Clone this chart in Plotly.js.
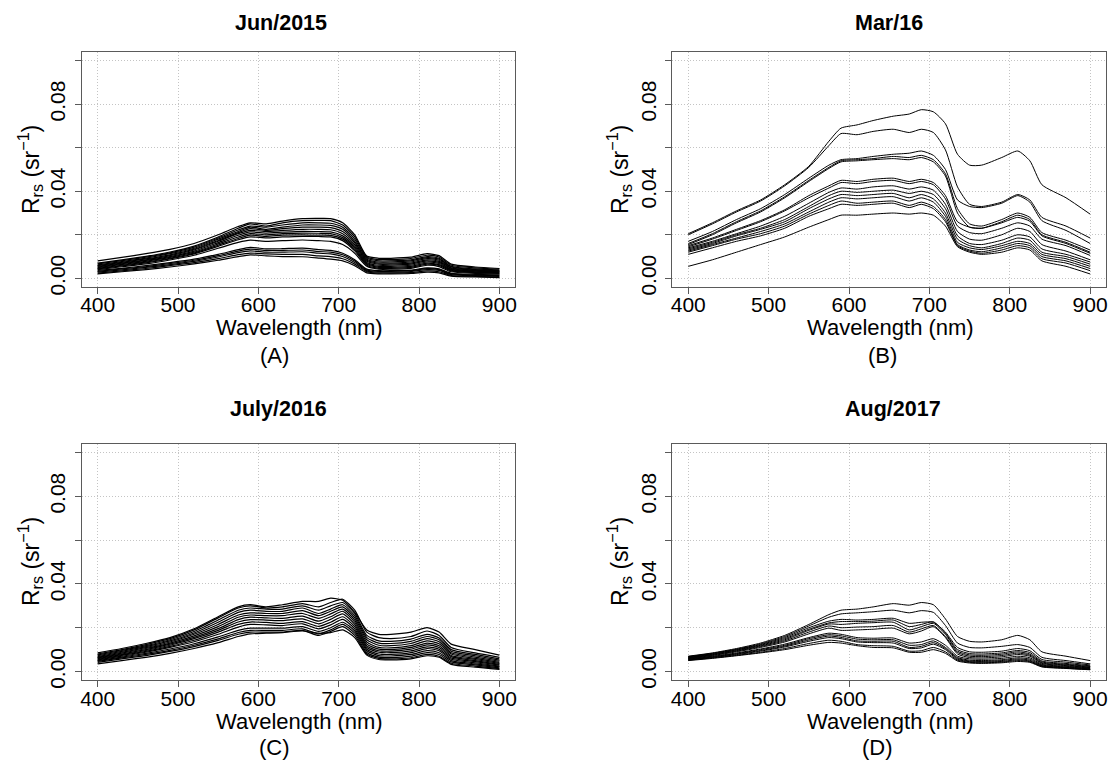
<!DOCTYPE html>
<html>
<head>
<meta charset="utf-8">
<script src="https://cdn.plot.ly/plotly-3.0.1.min.js"></script>
<style>
  html, body { margin: 0; padding: 0; background: #ffffff; }
  #chart { width: 1111px; height: 762px; }
</style>
</head>
<body>
<div id="chart"></div>
<script>
// Sampled wavelengths (nm) shared by every spectrum
const wavelength = [400, 430, 460, 490, 520, 550, 575, 590, 610, 630, 655, 675, 690, 705, 720, 735, 750, 765, 790, 810, 825, 840, 870, 900];

// Remote sensing reflectance Rrs (sr^-1), one row per sampling station
const rrsJun2015 = [
  [0.0080, 0.0096, 0.0113, 0.0133, 0.0160, 0.0200, 0.0238, 0.0255, 0.0250, 0.0263, 0.0274, 0.0275, 0.0274, 0.0255, 0.0200, 0.0102, 0.0092, 0.0092, 0.0097, 0.0113, 0.0104, 0.0065, 0.0052, 0.0045],
  [0.0070, 0.0085, 0.0101, 0.0121, 0.0148, 0.0190, 0.0230, 0.0250, 0.0240, 0.0255, 0.0265, 0.0266, 0.0265, 0.0245, 0.0190, 0.0098, 0.0086, 0.0086, 0.0091, 0.0106, 0.0098, 0.0060, 0.0048, 0.0042],
  [0.0066, 0.0081, 0.0097, 0.0117, 0.0143, 0.0185, 0.0222, 0.0240, 0.0235, 0.0245, 0.0255, 0.0255, 0.0253, 0.0235, 0.0180, 0.0093, 0.0080, 0.0080, 0.0085, 0.0100, 0.0092, 0.0055, 0.0043, 0.0038],
  [0.0062, 0.0077, 0.0093, 0.0113, 0.0138, 0.0180, 0.0215, 0.0235, 0.0225, 0.0235, 0.0245, 0.0245, 0.0243, 0.0225, 0.0170, 0.0088, 0.0075, 0.0075, 0.0080, 0.0095, 0.0088, 0.0052, 0.0040, 0.0035],
  [0.0058, 0.0073, 0.0089, 0.0108, 0.0134, 0.0174, 0.0210, 0.0228, 0.0220, 0.0228, 0.0235, 0.0235, 0.0233, 0.0215, 0.0163, 0.0083, 0.0070, 0.0070, 0.0075, 0.0090, 0.0083, 0.0048, 0.0038, 0.0033],
  [0.0055, 0.0070, 0.0085, 0.0104, 0.0130, 0.0170, 0.0205, 0.0220, 0.0215, 0.0220, 0.0225, 0.0225, 0.0223, 0.0205, 0.0155, 0.0078, 0.0065, 0.0065, 0.0070, 0.0085, 0.0078, 0.0045, 0.0035, 0.0030],
  [0.0052, 0.0067, 0.0082, 0.0100, 0.0125, 0.0164, 0.0198, 0.0213, 0.0208, 0.0212, 0.0216, 0.0215, 0.0213, 0.0195, 0.0147, 0.0073, 0.0060, 0.0060, 0.0065, 0.0080, 0.0073, 0.0042, 0.0033, 0.0028],
  [0.0049, 0.0064, 0.0078, 0.0096, 0.0120, 0.0158, 0.0190, 0.0205, 0.0200, 0.0205, 0.0208, 0.0207, 0.0205, 0.0187, 0.0140, 0.0068, 0.0055, 0.0055, 0.0060, 0.0075, 0.0068, 0.0040, 0.0030, 0.0026],
  [0.0046, 0.0060, 0.0074, 0.0092, 0.0116, 0.0152, 0.0183, 0.0198, 0.0193, 0.0198, 0.0200, 0.0198, 0.0197, 0.0180, 0.0133, 0.0064, 0.0050, 0.0050, 0.0055, 0.0070, 0.0063, 0.0037, 0.0028, 0.0024],
  [0.0043, 0.0057, 0.0071, 0.0089, 0.0112, 0.0147, 0.0177, 0.0190, 0.0186, 0.0190, 0.0193, 0.0192, 0.0190, 0.0173, 0.0126, 0.0060, 0.0046, 0.0046, 0.0050, 0.0065, 0.0059, 0.0034, 0.0026, 0.0022],
  [0.0040, 0.0053, 0.0066, 0.0084, 0.0106, 0.0138, 0.0165, 0.0175, 0.0170, 0.0173, 0.0176, 0.0173, 0.0170, 0.0155, 0.0115, 0.0055, 0.0042, 0.0042, 0.0046, 0.0060, 0.0054, 0.0030, 0.0023, 0.0019],
  [0.0036, 0.0046, 0.0058, 0.0072, 0.0088, 0.0110, 0.0132, 0.0142, 0.0135, 0.0136, 0.0139, 0.0132, 0.0128, 0.0115, 0.0085, 0.0042, 0.0035, 0.0035, 0.0038, 0.0048, 0.0043, 0.0023, 0.0018, 0.0015],
  [0.0032, 0.0043, 0.0054, 0.0068, 0.0083, 0.0104, 0.0125, 0.0134, 0.0128, 0.0128, 0.0130, 0.0123, 0.0120, 0.0108, 0.0079, 0.0038, 0.0032, 0.0032, 0.0035, 0.0044, 0.0040, 0.0020, 0.0015, 0.0012],
  [0.0028, 0.0039, 0.0050, 0.0063, 0.0078, 0.0098, 0.0118, 0.0126, 0.0120, 0.0120, 0.0122, 0.0115, 0.0112, 0.0100, 0.0073, 0.0034, 0.0028, 0.0028, 0.0031, 0.0040, 0.0036, 0.0017, 0.0012, 0.0009],
  [0.0024, 0.0034, 0.0045, 0.0058, 0.0072, 0.0090, 0.0109, 0.0116, 0.0112, 0.0110, 0.0110, 0.0103, 0.0100, 0.0090, 0.0065, 0.0030, 0.0024, 0.0024, 0.0026, 0.0034, 0.0030, 0.0013, 0.0009, 0.0006],
  [0.0020, 0.0030, 0.0040, 0.0052, 0.0066, 0.0083, 0.0100, 0.0108, 0.0103, 0.0100, 0.0099, 0.0093, 0.0088, 0.0080, 0.0058, 0.0025, 0.0020, 0.0020, 0.0022, 0.0028, 0.0025, 0.0010, 0.0006, 0.0003]
];

const rrsMar2016 = [
  [0.0205, 0.0255, 0.0310, 0.0360, 0.0430, 0.0515, 0.0630, 0.0690, 0.0705, 0.0725, 0.0745, 0.0755, 0.0775, 0.0765, 0.0710, 0.0570, 0.0520, 0.0520, 0.0555, 0.0585, 0.0540, 0.0430, 0.0370, 0.0295],
  [0.0200, 0.0250, 0.0305, 0.0355, 0.0425, 0.0510, 0.0610, 0.0665, 0.0660, 0.0675, 0.0685, 0.0670, 0.0685, 0.0670, 0.0590, 0.0420, 0.0340, 0.0330, 0.0350, 0.0385, 0.0360, 0.0280, 0.0240, 0.0185],
  [0.0170, 0.0215, 0.0270, 0.0320, 0.0385, 0.0460, 0.0520, 0.0545, 0.0550, 0.0560, 0.0570, 0.0575, 0.0585, 0.0565, 0.0500, 0.0360, 0.0330, 0.0325, 0.0345, 0.0380, 0.0350, 0.0265, 0.0220, 0.0160],
  [0.0160, 0.0205, 0.0260, 0.0310, 0.0375, 0.0450, 0.0510, 0.0540, 0.0545, 0.0550, 0.0560, 0.0555, 0.0565, 0.0545, 0.0480, 0.0320, 0.0250, 0.0240, 0.0270, 0.0300, 0.0280, 0.0210, 0.0175, 0.0130],
  [0.0155, 0.0200, 0.0255, 0.0305, 0.0370, 0.0445, 0.0505, 0.0535, 0.0540, 0.0545, 0.0550, 0.0545, 0.0555, 0.0535, 0.0470, 0.0300, 0.0235, 0.0230, 0.0260, 0.0290, 0.0270, 0.0200, 0.0165, 0.0120],
  [0.0150, 0.0185, 0.0225, 0.0265, 0.0315, 0.0380, 0.0425, 0.0450, 0.0445, 0.0455, 0.0460, 0.0445, 0.0455, 0.0440, 0.0380, 0.0260, 0.0235, 0.0230, 0.0255, 0.0280, 0.0262, 0.0195, 0.0160, 0.0115],
  [0.0145, 0.0180, 0.0220, 0.0260, 0.0310, 0.0370, 0.0415, 0.0440, 0.0435, 0.0445, 0.0450, 0.0435, 0.0445, 0.0430, 0.0365, 0.0240, 0.0210, 0.0205, 0.0230, 0.0255, 0.0240, 0.0180, 0.0150, 0.0105],
  [0.0140, 0.0170, 0.0205, 0.0240, 0.0285, 0.0345, 0.0395, 0.0415, 0.0410, 0.0420, 0.0425, 0.0410, 0.0420, 0.0405, 0.0340, 0.0215, 0.0180, 0.0175, 0.0200, 0.0230, 0.0215, 0.0155, 0.0125, 0.0085],
  [0.0135, 0.0165, 0.0200, 0.0230, 0.0270, 0.0330, 0.0380, 0.0400, 0.0395, 0.0400, 0.0405, 0.0390, 0.0400, 0.0385, 0.0320, 0.0195, 0.0160, 0.0155, 0.0175, 0.0200, 0.0190, 0.0135, 0.0110, 0.0075],
  [0.0130, 0.0160, 0.0195, 0.0225, 0.0260, 0.0320, 0.0365, 0.0385, 0.0380, 0.0385, 0.0390, 0.0370, 0.0385, 0.0365, 0.0300, 0.0180, 0.0150, 0.0140, 0.0160, 0.0185, 0.0175, 0.0120, 0.0100, 0.0065],
  [0.0125, 0.0155, 0.0185, 0.0215, 0.0250, 0.0305, 0.0350, 0.0370, 0.0365, 0.0370, 0.0375, 0.0355, 0.0370, 0.0350, 0.0285, 0.0165, 0.0140, 0.0132, 0.0150, 0.0170, 0.0160, 0.0110, 0.0090, 0.0055],
  [0.0120, 0.0150, 0.0180, 0.0205, 0.0240, 0.0295, 0.0335, 0.0355, 0.0345, 0.0350, 0.0355, 0.0335, 0.0350, 0.0330, 0.0270, 0.0155, 0.0130, 0.0122, 0.0140, 0.0160, 0.0150, 0.0100, 0.0080, 0.0045],
  [0.0110, 0.0140, 0.0170, 0.0195, 0.0230, 0.0285, 0.0320, 0.0340, 0.0335, 0.0340, 0.0345, 0.0325, 0.0340, 0.0320, 0.0260, 0.0150, 0.0125, 0.0115, 0.0130, 0.0150, 0.0140, 0.0090, 0.0070, 0.0035],
  [0.0055, 0.0085, 0.0120, 0.0155, 0.0190, 0.0235, 0.0270, 0.0290, 0.0290, 0.0295, 0.0300, 0.0295, 0.0300, 0.0290, 0.0240, 0.0145, 0.0120, 0.0110, 0.0120, 0.0140, 0.0130, 0.0080, 0.0055, 0.0020]
];

const rrsJul2016 = [
  [0.0085, 0.0105, 0.0128, 0.0155, 0.0195, 0.0250, 0.0295, 0.0305, 0.0295, 0.0305, 0.0320, 0.0320, 0.0335, 0.0325, 0.0270, 0.0190, 0.0170, 0.0170, 0.0180, 0.0200, 0.0180, 0.0125, 0.0100, 0.0075],
  [0.0080, 0.0100, 0.0123, 0.0150, 0.0190, 0.0245, 0.0290, 0.0300, 0.0290, 0.0295, 0.0310, 0.0295, 0.0315, 0.0330, 0.0280, 0.0180, 0.0155, 0.0150, 0.0160, 0.0185, 0.0165, 0.0110, 0.0085, 0.0065],
  [0.0076, 0.0096, 0.0118, 0.0145, 0.0183, 0.0235, 0.0280, 0.0290, 0.0285, 0.0285, 0.0300, 0.0280, 0.0300, 0.0315, 0.0265, 0.0165, 0.0140, 0.0138, 0.0148, 0.0170, 0.0153, 0.0100, 0.0078, 0.0058],
  [0.0072, 0.0092, 0.0114, 0.0140, 0.0176, 0.0225, 0.0270, 0.0280, 0.0275, 0.0275, 0.0290, 0.0265, 0.0285, 0.0305, 0.0255, 0.0155, 0.0130, 0.0128, 0.0138, 0.0160, 0.0145, 0.0093, 0.0072, 0.0052],
  [0.0068, 0.0088, 0.0109, 0.0135, 0.0170, 0.0215, 0.0258, 0.0268, 0.0265, 0.0265, 0.0278, 0.0255, 0.0275, 0.0295, 0.0245, 0.0145, 0.0120, 0.0118, 0.0128, 0.0150, 0.0136, 0.0086, 0.0066, 0.0047],
  [0.0065, 0.0084, 0.0105, 0.0130, 0.0163, 0.0205, 0.0248, 0.0258, 0.0255, 0.0255, 0.0265, 0.0243, 0.0263, 0.0285, 0.0235, 0.0135, 0.0110, 0.0108, 0.0118, 0.0140, 0.0127, 0.0080, 0.0060, 0.0042],
  [0.0062, 0.0080, 0.0100, 0.0125, 0.0156, 0.0196, 0.0237, 0.0248, 0.0245, 0.0243, 0.0253, 0.0230, 0.0250, 0.0275, 0.0225, 0.0125, 0.0102, 0.0100, 0.0110, 0.0130, 0.0118, 0.0073, 0.0055, 0.0037],
  [0.0059, 0.0077, 0.0096, 0.0120, 0.0150, 0.0188, 0.0226, 0.0237, 0.0235, 0.0232, 0.0240, 0.0218, 0.0238, 0.0263, 0.0215, 0.0117, 0.0095, 0.0093, 0.0102, 0.0122, 0.0110, 0.0068, 0.0050, 0.0033],
  [0.0056, 0.0074, 0.0092, 0.0115, 0.0143, 0.0180, 0.0215, 0.0226, 0.0224, 0.0220, 0.0228, 0.0206, 0.0225, 0.0250, 0.0205, 0.0110, 0.0088, 0.0086, 0.0094, 0.0113, 0.0102, 0.0062, 0.0045, 0.0029],
  [0.0053, 0.0070, 0.0088, 0.0110, 0.0136, 0.0170, 0.0203, 0.0215, 0.0213, 0.0210, 0.0218, 0.0195, 0.0213, 0.0238, 0.0195, 0.0102, 0.0080, 0.0078, 0.0086, 0.0105, 0.0095, 0.0056, 0.0040, 0.0025],
  [0.0050, 0.0066, 0.0083, 0.0103, 0.0127, 0.0158, 0.0188, 0.0198, 0.0198, 0.0198, 0.0205, 0.0183, 0.0200, 0.0225, 0.0185, 0.0095, 0.0073, 0.0071, 0.0078, 0.0095, 0.0086, 0.0050, 0.0035, 0.0021],
  [0.0046, 0.0062, 0.0078, 0.0097, 0.0120, 0.0149, 0.0178, 0.0188, 0.0188, 0.0188, 0.0195, 0.0172, 0.0190, 0.0215, 0.0175, 0.0087, 0.0066, 0.0064, 0.0070, 0.0086, 0.0078, 0.0044, 0.0030, 0.0017],
  [0.0042, 0.0058, 0.0073, 0.0092, 0.0114, 0.0142, 0.0170, 0.0180, 0.0180, 0.0180, 0.0188, 0.0165, 0.0183, 0.0205, 0.0165, 0.0080, 0.0060, 0.0058, 0.0063, 0.0078, 0.0070, 0.0038, 0.0025, 0.0013],
  [0.0035, 0.0050, 0.0065, 0.0083, 0.0105, 0.0132, 0.0160, 0.0172, 0.0175, 0.0178, 0.0185, 0.0175, 0.0178, 0.0190, 0.0155, 0.0075, 0.0055, 0.0053, 0.0058, 0.0072, 0.0065, 0.0033, 0.0020, 0.0010]
];

const rrsAug2017 = [
  [0.0070, 0.0085, 0.0105, 0.0130, 0.0165, 0.0215, 0.0260, 0.0280, 0.0285, 0.0295, 0.0310, 0.0303, 0.0315, 0.0305, 0.0240, 0.0160, 0.0138, 0.0135, 0.0145, 0.0165, 0.0145, 0.0090, 0.0070, 0.0050],
  [0.0068, 0.0083, 0.0102, 0.0126, 0.0160, 0.0208, 0.0248, 0.0263, 0.0268, 0.0273, 0.0280, 0.0268, 0.0278, 0.0270, 0.0210, 0.0130, 0.0110, 0.0108, 0.0115, 0.0123, 0.0110, 0.0065, 0.0050, 0.0035],
  [0.0067, 0.0081, 0.0100, 0.0123, 0.0155, 0.0200, 0.0230, 0.0238, 0.0235, 0.0238, 0.0243, 0.0220, 0.0225, 0.0225, 0.0180, 0.0110, 0.0090, 0.0088, 0.0093, 0.0105, 0.0095, 0.0055, 0.0043, 0.0030],
  [0.0065, 0.0079, 0.0098, 0.0120, 0.0150, 0.0193, 0.0222, 0.0228, 0.0228, 0.0230, 0.0235, 0.0205, 0.0215, 0.0227, 0.0175, 0.0100, 0.0082, 0.0080, 0.0085, 0.0096, 0.0087, 0.0048, 0.0037, 0.0026],
  [0.0063, 0.0077, 0.0095, 0.0117, 0.0145, 0.0188, 0.0217, 0.0215, 0.0220, 0.0223, 0.0225, 0.0190, 0.0205, 0.0220, 0.0170, 0.0093, 0.0076, 0.0074, 0.0079, 0.0090, 0.0080, 0.0044, 0.0033, 0.0023],
  [0.0062, 0.0075, 0.0093, 0.0114, 0.0140, 0.0180, 0.0208, 0.0200, 0.0203, 0.0205, 0.0210, 0.0180, 0.0195, 0.0210, 0.0160, 0.0087, 0.0070, 0.0068, 0.0073, 0.0084, 0.0075, 0.0040, 0.0030, 0.0020],
  [0.0060, 0.0073, 0.0090, 0.0110, 0.0135, 0.0172, 0.0198, 0.0188, 0.0190, 0.0193, 0.0198, 0.0172, 0.0185, 0.0205, 0.0155, 0.0080, 0.0064, 0.0062, 0.0067, 0.0078, 0.0070, 0.0037, 0.0027, 0.0018],
  [0.0059, 0.0070, 0.0085, 0.0103, 0.0125, 0.0155, 0.0175, 0.0170, 0.0155, 0.0152, 0.0153, 0.0130, 0.0135, 0.0150, 0.0120, 0.0070, 0.0058, 0.0056, 0.0060, 0.0070, 0.0063, 0.0033, 0.0024, 0.0016],
  [0.0057, 0.0068, 0.0082, 0.0100, 0.0120, 0.0150, 0.0168, 0.0163, 0.0148, 0.0145, 0.0145, 0.0120, 0.0123, 0.0140, 0.0110, 0.0064, 0.0052, 0.0050, 0.0054, 0.0063, 0.0057, 0.0030, 0.0021, 0.0014],
  [0.0055, 0.0066, 0.0080, 0.0096, 0.0116, 0.0144, 0.0162, 0.0156, 0.0140, 0.0138, 0.0138, 0.0110, 0.0115, 0.0132, 0.0105, 0.0060, 0.0048, 0.0046, 0.0050, 0.0058, 0.0052, 0.0027, 0.0019, 0.0012],
  [0.0053, 0.0064, 0.0077, 0.0093, 0.0112, 0.0138, 0.0155, 0.0150, 0.0135, 0.0132, 0.0130, 0.0105, 0.0108, 0.0125, 0.0100, 0.0056, 0.0045, 0.0043, 0.0046, 0.0054, 0.0048, 0.0025, 0.0017, 0.0010],
  [0.0052, 0.0062, 0.0074, 0.0088, 0.0105, 0.0128, 0.0143, 0.0138, 0.0123, 0.0118, 0.0115, 0.0093, 0.0095, 0.0110, 0.0090, 0.0052, 0.0042, 0.0040, 0.0043, 0.0050, 0.0045, 0.0023, 0.0015, 0.0009],
  [0.0050, 0.0060, 0.0072, 0.0085, 0.0100, 0.0120, 0.0133, 0.0130, 0.0118, 0.0110, 0.0108, 0.0088, 0.0088, 0.0100, 0.0083, 0.0048, 0.0039, 0.0037, 0.0040, 0.0046, 0.0042, 0.0021, 0.0014, 0.0008]
];

const panelSpectra = [rrsJun2015, rrsMar2016, rrsJul2016, rrsAug2017];
const panelTitles = ['Jun/2015', 'Mar/16', 'July/2016', 'Aug/2017'];
const panelLabels = ['(A)', '(B)', '(C)', '(D)'];
const xTickValues = [400, 500, 600, 700, 800, 900];
const yLabelledTicks = [0, 0.04, 0.08];
const yLabelText = ['0.00', '0.04', '0.08'];
const yUnlabelledTicks = [0.02, 0.06, 0.10];

const W = 1111, H = 762;
const FONT = '"Liberation Sans", Arial, Helvetica, sans-serif';
const AXIS_GREY = '#5a5a5a';
const GRID_GREY = '#c4c4c4';
// Densely sampled campaigns get slightly heavier strokes
const lineWidths = [1.2, 1, 1.2, 1];

// Plot boxes in pixels: [left, right, top, bottom]
const boxes = [
  [81.6, 515.4, 52, 287],
  [672.2, 1106.2, 52, 287],
  [81.6, 515.4, 443.7, 680.3],
  [672.2, 1106.2, 443.7, 680.3]
];
// Text anchor points in pixels
const titlePos = [[281, 23], [889, 23], [278, 409], [893, 409]];
const xTitlePos = [[299, 327.5], [890, 327.5], [299, 721], [890, 721]];
const labelPos = [[274, 355.6], [882, 355.6], [274, 747.7], [877, 747.7]];
const yTitlePos = [[30, 170], [619, 170], [30, 562], [619, 562]];

const px = v => v / W;
const py = v => 1 - v / H;

const traces = [];
const layout = {
  width: W, height: H,
  margin: {l: 0, r: 0, t: 0, b: 0},
  paper_bgcolor: '#ffffff',
  plot_bgcolor: '#ffffff',
  showlegend: false,
  hovermode: false,
  font: {family: FONT, color: '#000000'},
  annotations: []
};

panelSpectra.forEach((spectra, i) => {
  const n = i + 1;
  const xa = n === 1 ? 'x' : 'x' + n;
  const ya = n === 1 ? 'y' : 'y' + n;
  spectra.forEach(rrs => {
    traces.push({
      type: 'scatter', mode: 'lines',
      x: wavelength, y: rrs,
      xaxis: xa, yaxis: ya,
      line: {color: '#000000', width: lineWidths[i], shape: 'spline', smoothing: 0.6}
    });
  });

  const b = boxes[i];
  const axisCommon = {
    showline: true, linecolor: AXIS_GREY, linewidth: 1, mirror: true,
    ticks: 'outside', ticklen: 6, tickcolor: AXIS_GREY, tickwidth: 1,
    showgrid: true, gridcolor: GRID_GREY, griddash: '1px,2px', gridwidth: 1,
    zeroline: false, fixedrange: true,
    tickfont: {family: FONT, size: 21, color: '#000000'}
  };
  layout['xaxis' + (n === 1 ? '' : n)] = Object.assign({}, axisCommon, {
    domain: [px(b[0]), px(b[1])],
    anchor: ya,
    range: [380, 920],
    tickmode: 'array', tickvals: xTickValues,
    ticktext: xTickValues.map(String),
    ticklabelstandoff: -7
  });
  layout['yaxis' + (n === 1 ? '' : n)] = Object.assign({}, axisCommon, {
    domain: [py(b[3]), py(b[2])],
    anchor: xa,
    range: [-0.004, 0.104],
    tickmode: 'array', tickvals: yLabelledTicks, ticktext: yLabelText,
    tickangle: -90,
    ticklabelstandoff: 1,
    minor: {
      tickmode: 'array', tickvals: yUnlabelledTicks,
      ticks: 'outside', ticklen: 6, tickcolor: AXIS_GREY, tickwidth: 1,
      showgrid: true, gridcolor: GRID_GREY, griddash: '1px,2px', gridwidth: 1
    }
  });

  const ann = layout.annotations;
  ann.push({
    text: '<b>' + panelTitles[i] + '</b>', showarrow: false,
    xref: 'paper', yref: 'paper', x: px(titlePos[i][0]), y: py(titlePos[i][1]),
    xanchor: 'center', yanchor: 'middle',
    font: {family: FONT, size: 21.5, color: '#000000'}
  });
  ann.push({
    text: 'Wavelength (nm)', showarrow: false,
    xref: 'paper', yref: 'paper', x: px(xTitlePos[i][0]), y: py(xTitlePos[i][1]),
    xanchor: 'center', yanchor: 'middle',
    font: {family: FONT, size: 22, color: '#000000'}
  });
  ann.push({
    text: panelLabels[i], showarrow: false,
    xref: 'paper', yref: 'paper', x: px(labelPos[i][0]), y: py(labelPos[i][1]),
    xanchor: 'center', yanchor: 'middle',
    font: {family: FONT, size: 22, color: '#000000'}
  });
  ann.push({
    text: 'R<sub>rs</sub> (sr<sup>\u22121</sup>)', showarrow: false, textangle: -90,
    xref: 'paper', yref: 'paper', x: px(yTitlePos[i][0]), y: py(yTitlePos[i][1]),
    xanchor: 'center', yanchor: 'middle',
    font: {family: FONT, size: 23, color: '#000000'}
  });
});

Plotly.newPlot('chart', traces, layout, {displayModeBar: false, staticPlot: true});
</script>
</body>
</html>
